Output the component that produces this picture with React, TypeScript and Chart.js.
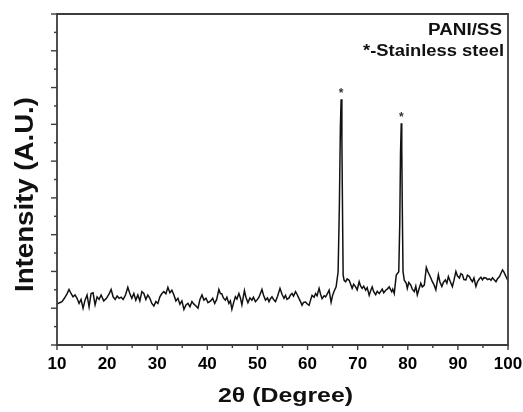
import React, { useEffect, useRef } from "react";
import { Chart, registerables } from "chart.js";

Chart.register(...registerables);

// 2θ positions (degrees) of the measured points
const angles: number[] = [
  10.0, 10.53, 11.0, 11.47, 12.0, 12.4, 12.8, 13.2, 13.6, 14.0, 14.4, 14.8, 15.2, 15.6, 16.0, 16.4, 16.8, 17.2, 17.6, 18.0,
  18.4, 18.8, 19.33, 19.87, 20.4, 20.8, 21.2, 21.6, 22.0, 22.4, 22.8, 23.2, 23.67, 24.13, 24.53, 24.93, 25.33, 25.73, 26.13, 26.53,
  26.93, 27.33, 27.73, 28.13, 28.53, 28.93, 29.33, 29.73, 30.13, 30.53, 30.93, 31.33, 31.73, 32.13, 32.53, 32.93, 33.33, 33.73, 34.13, 34.53,
  34.93, 35.33, 35.73, 36.13, 36.53, 36.93, 37.33, 37.73, 38.13, 38.53, 38.93, 39.33, 39.73, 40.13, 40.67, 41.07, 41.47, 41.87,
  42.3, 42.6, 42.9, 43.2, 43.6, 43.9, 44.3, 44.6, 44.9, 45.3, 45.6, 45.9, 46.3, 46.6, 46.9, 47.4, 47.7, 48.1, 48.5, 48.9,
  49.2, 49.6, 50.0, 50.3, 50.9, 51.2, 51.6, 52.0, 52.3, 52.6, 52.9, 53.3, 53.6, 54.0, 54.5, 54.9, 55.3, 55.6, 55.9, 56.3,
  56.6, 56.9, 57.2, 57.6, 57.9, 58.3, 58.6, 58.9, 59.2, 59.6, 59.9, 60.3, 60.6, 60.9, 61.3, 61.6, 61.9, 62.3, 62.6, 62.9,
  63.3, 63.6, 63.9, 64.3, 64.7, 65.0, 65.3, 65.7,
  66.1, 66.35, 66.55, 66.7, 66.85, 67.0, 67.1,
  67.3, 67.6, 67.9, 68.3, 68.6, 68.9, 69.2, 69.6, 69.9, 70.3, 70.6, 70.9, 71.2, 71.6, 71.9, 72.3, 72.6, 72.9, 73.2, 73.6,
  73.9, 74.3, 74.6, 74.9, 75.2, 75.6, 75.9, 76.3, 76.6, 76.8, 77.0, 77.3, 77.7,
  78.2, 78.4, 78.55, 78.7, 78.8, 78.9, 79.05,
  79.3, 79.7, 79.9, 80.2, 80.6, 80.9, 81.3, 81.6, 81.9, 82.2, 82.6, 82.9, 83.3, 83.7, 84.0, 84.3, 84.6, 84.9, 85.2, 85.6,
  86.1, 86.4, 86.8, 87.1, 87.5, 87.8, 88.1, 88.5, 88.9, 89.2, 89.6, 89.9, 90.3, 90.6, 90.9, 91.2, 91.6, 91.9, 92.3, 92.6,
  92.9, 93.2, 93.6, 93.9, 94.3, 94.6, 94.9, 95.2, 95.6, 95.9, 96.3, 96.6, 96.9, 97.2, 97.6, 97.9, 98.3, 98.6, 98.9, 99.2,
  99.6, 100.0,
];

// Intensity (arbitrary units)
const intensity: number[] = [
  111, 115, 118, 127, 139, 151, 140, 131, 136, 127, 113, 124, 100, 122, 136, 104, 140, 142, 109, 131,
  124, 136, 120, 127, 139, 151, 131, 124, 133, 127, 130, 124, 136, 157, 140, 127, 140, 122, 136, 120,
  145, 140, 124, 136, 127, 113, 106, 118, 113, 131, 140, 145, 139, 157, 142, 149, 136, 120, 127, 111,
  120, 97, 109, 113, 104, 118, 111, 106, 100, 124, 136, 122, 127, 115, 120, 127, 113, 124,
  151, 140, 139, 128, 122, 130, 113, 120, 97, 118, 131, 125, 140, 128, 109, 148, 130, 115, 128, 122,
  130, 118, 124, 130, 151, 136, 122, 128, 118, 126, 131, 122, 118, 132, 154, 138, 127, 135, 124, 128,
  136, 140, 133, 145, 138, 126, 118, 108, 116, 117, 112, 108, 122, 135, 130, 140, 134, 154, 138, 126,
  134, 131, 138, 149, 116, 135, 146, 158,
  199, 380, 590, 668, 560, 330, 190,
  176, 172, 180, 176, 165, 154, 165, 158, 150, 172, 160, 154, 160, 149, 156, 135, 148, 158, 145, 137,
  146, 140, 146, 152, 142, 149, 152, 158, 150, 145, 152, 140, 190,
  199, 330, 520, 603, 540, 380, 200,
  176, 168, 154, 170, 163, 152, 145, 160, 136, 150, 168, 158, 163, 211, 200, 191, 182, 172, 165, 150,
  191, 172, 159, 170, 177, 168, 186, 172, 159, 175, 200, 188, 182, 194, 191, 178, 177, 190, 186, 178,
  172, 182, 159, 172, 180, 184, 177, 183, 182, 178, 180, 176, 183, 178, 172, 180, 186, 195, 204, 198,
  186, 175,
];

// Stainless-steel reflections marked with an asterisk
const peakAngles: number[] = [66.7, 78.7];
const peakIntensities: number[] = [668, 603];
const peakMark = "*";

// Axis ranges and ticks
const xTickLabels: number[] = [10, 20, 30, 40, 50, 60, 70, 80, 90, 100];
const xMin = 10;
const xMax = 100;
const xMinorStep = 5;
const yMin = 0;
const yMax = 900;
const yMajorStep = 100;
const yMinorStep = 50;

// Texts
const legendLines: string[] = ["PANI/SS", "*-Stainless steel"];
const xTitle = "2θ (Degree)";
const yTitle = "Intensity (A.U.)";

const FONT = "'Liberation Sans', Arial, Helvetica, sans-serif";
const AXIS_COLOR = "#3c3c3c";
const TEXT_COLOR = "#111111";

function fitText(
  ctx: CanvasRenderingContext2D,
  text: string,
  x: number,
  y: number,
  targetWidth: number,
  align: "center" | "right"
) {
  const w = ctx.measureText(text).width;
  const sx = targetWidth / w;
  ctx.save();
  ctx.translate(x, y);
  ctx.scale(sx, 1);
  ctx.textAlign = align;
  ctx.fillText(text, 0, 0);
  ctx.restore();
}

const framePlugin = {
  id: "frameAndMarks",
  afterDraw(chart: any) {
    const { ctx, chartArea } = chart;
    const { left, right, top, bottom } = chartArea;
    const xs = chart.scales.x;
    const ys = chart.scales.y;
    ctx.save();

    // frame
    ctx.strokeStyle = AXIS_COLOR;
    ctx.lineWidth = 1.8;
    ctx.beginPath();
    ctx.moveTo(left, top);
    ctx.lineTo(right, top);
    ctx.lineTo(right, bottom);
    ctx.lineTo(left, bottom);
    ctx.closePath();
    ctx.stroke();

    // x ticks (major + minor), outside
    ctx.lineWidth = 1.4;
    for (let v = xMin; v <= xMax + 1e-9; v += xMinorStep) {
      const px = xs.getPixelForValue(v);
      const major = xTickLabels.includes(v);
      ctx.beginPath();
      ctx.moveTo(px, bottom);
      ctx.lineTo(px, bottom + (major ? 5 : 3));
      ctx.stroke();
    }
    // y ticks (major + minor), outside
    for (let v = yMin; v <= yMax + 1e-9; v += yMinorStep) {
      const py = ys.getPixelForValue(v);
      const major = v % yMajorStep === 0;
      ctx.beginPath();
      ctx.moveTo(left - (major ? 6 : 3), py);
      ctx.lineTo(left, py);
      ctx.stroke();
    }

    // peak asterisks
    ctx.fillStyle = "#333";
    ctx.font = `bold 12px ${FONT}`;
    ctx.textAlign = "center";
    ctx.textBaseline = "alphabetic";
    peakAngles.forEach((a, i) => {
      const px = xs.getPixelForValue(a);
      const py = ys.getPixelForValue(peakIntensities[i]);
      ctx.fillText(peakMark, px, py - 2.5);
    });

    // legend text (top right)
    ctx.fillStyle = TEXT_COLOR;
    ctx.textBaseline = "alphabetic";
    ctx.font = `bold 16px ${FONT}`;
    fitText(ctx, legendLines[0], right - 6, top + 21, 74, "right");
    fitText(ctx, legendLines[1], right - 4, top + 42, 141, "right");

    // x title
    ctx.font = `bold 20px ${FONT}`;
    ctx.textBaseline = "alphabetic";
    fitText(ctx, xTitle, (left + right) / 2 + 3, 402, 135, "center");

    // y title
    ctx.save();
    ctx.translate(33, (top + bottom) / 2 + 15);
    ctx.rotate(-Math.PI / 2);
    ctx.font = `bold 26px ${FONT}`;
    ctx.textBaseline = "alphabetic";
    fitText(ctx, yTitle, 0, 0, 195, "center");
    ctx.restore();

    ctx.restore();
  },
};

export default function App() {
  const canvasRef = useRef<HTMLCanvasElement | null>(null);

  useEffect(() => {
    document.body.style.margin = "0";
    const canvas = canvasRef.current;
    if (!canvas) return;
    const points = angles.map((a, i) => ({ x: a, y: intensity[i] }));
    const chart = new Chart(canvas, {
      type: "line",
      data: {
        datasets: [
          {
            data: points,
            borderColor: "#111111",
            borderWidth: 1.5,
            pointRadius: 0,
            tension: 0,
            fill: false,
          },
        ],
      },
      options: {
        animation: false,
        responsive: false,
        devicePixelRatio: 1,
        layout: { padding: { top: 14, right: 15, left: 0, bottom: 0 } },
        plugins: { legend: { display: false }, tooltip: { enabled: false } },
        scales: {
          x: {
            type: "linear",
            min: xMin,
            max: xMax,
            afterBuildTicks: (scale: any) => {
              scale.ticks = xTickLabels.map((v) => ({ value: v }));
            },
            ticks: {
              autoSkip: false,
              maxRotation: 0,
              padding: 9,
              color: "#000",
              font: { family: FONT, weight: "bold", size: 17 },
            },
            grid: { display: false, drawTicks: false },
            border: { display: false },
            afterFit: (s: any) => {
              s.height = 67;
              s.paddingLeft = 0;
              s.paddingRight = 0;
            },
          },
          y: {
            type: "linear",
            min: yMin,
            max: yMax,
            ticks: { display: false, stepSize: yMajorStep },
            grid: { display: false, drawTicks: false },
            border: { display: false },
            afterFit: (s: any) => {
              s.width = 57;
              s.paddingTop = 0;
              s.paddingBottom = 0;
            },
          },
        },
      } as any,
      plugins: [framePlugin],
    });
    return () => chart.destroy();
  }, []);

  return (
    <div style={{ width: 523, height: 412, background: "#fff" }}>
      <canvas ref={canvasRef} width={523} height={412} style={{ display: "block" }} />
    </div>
  );
}
